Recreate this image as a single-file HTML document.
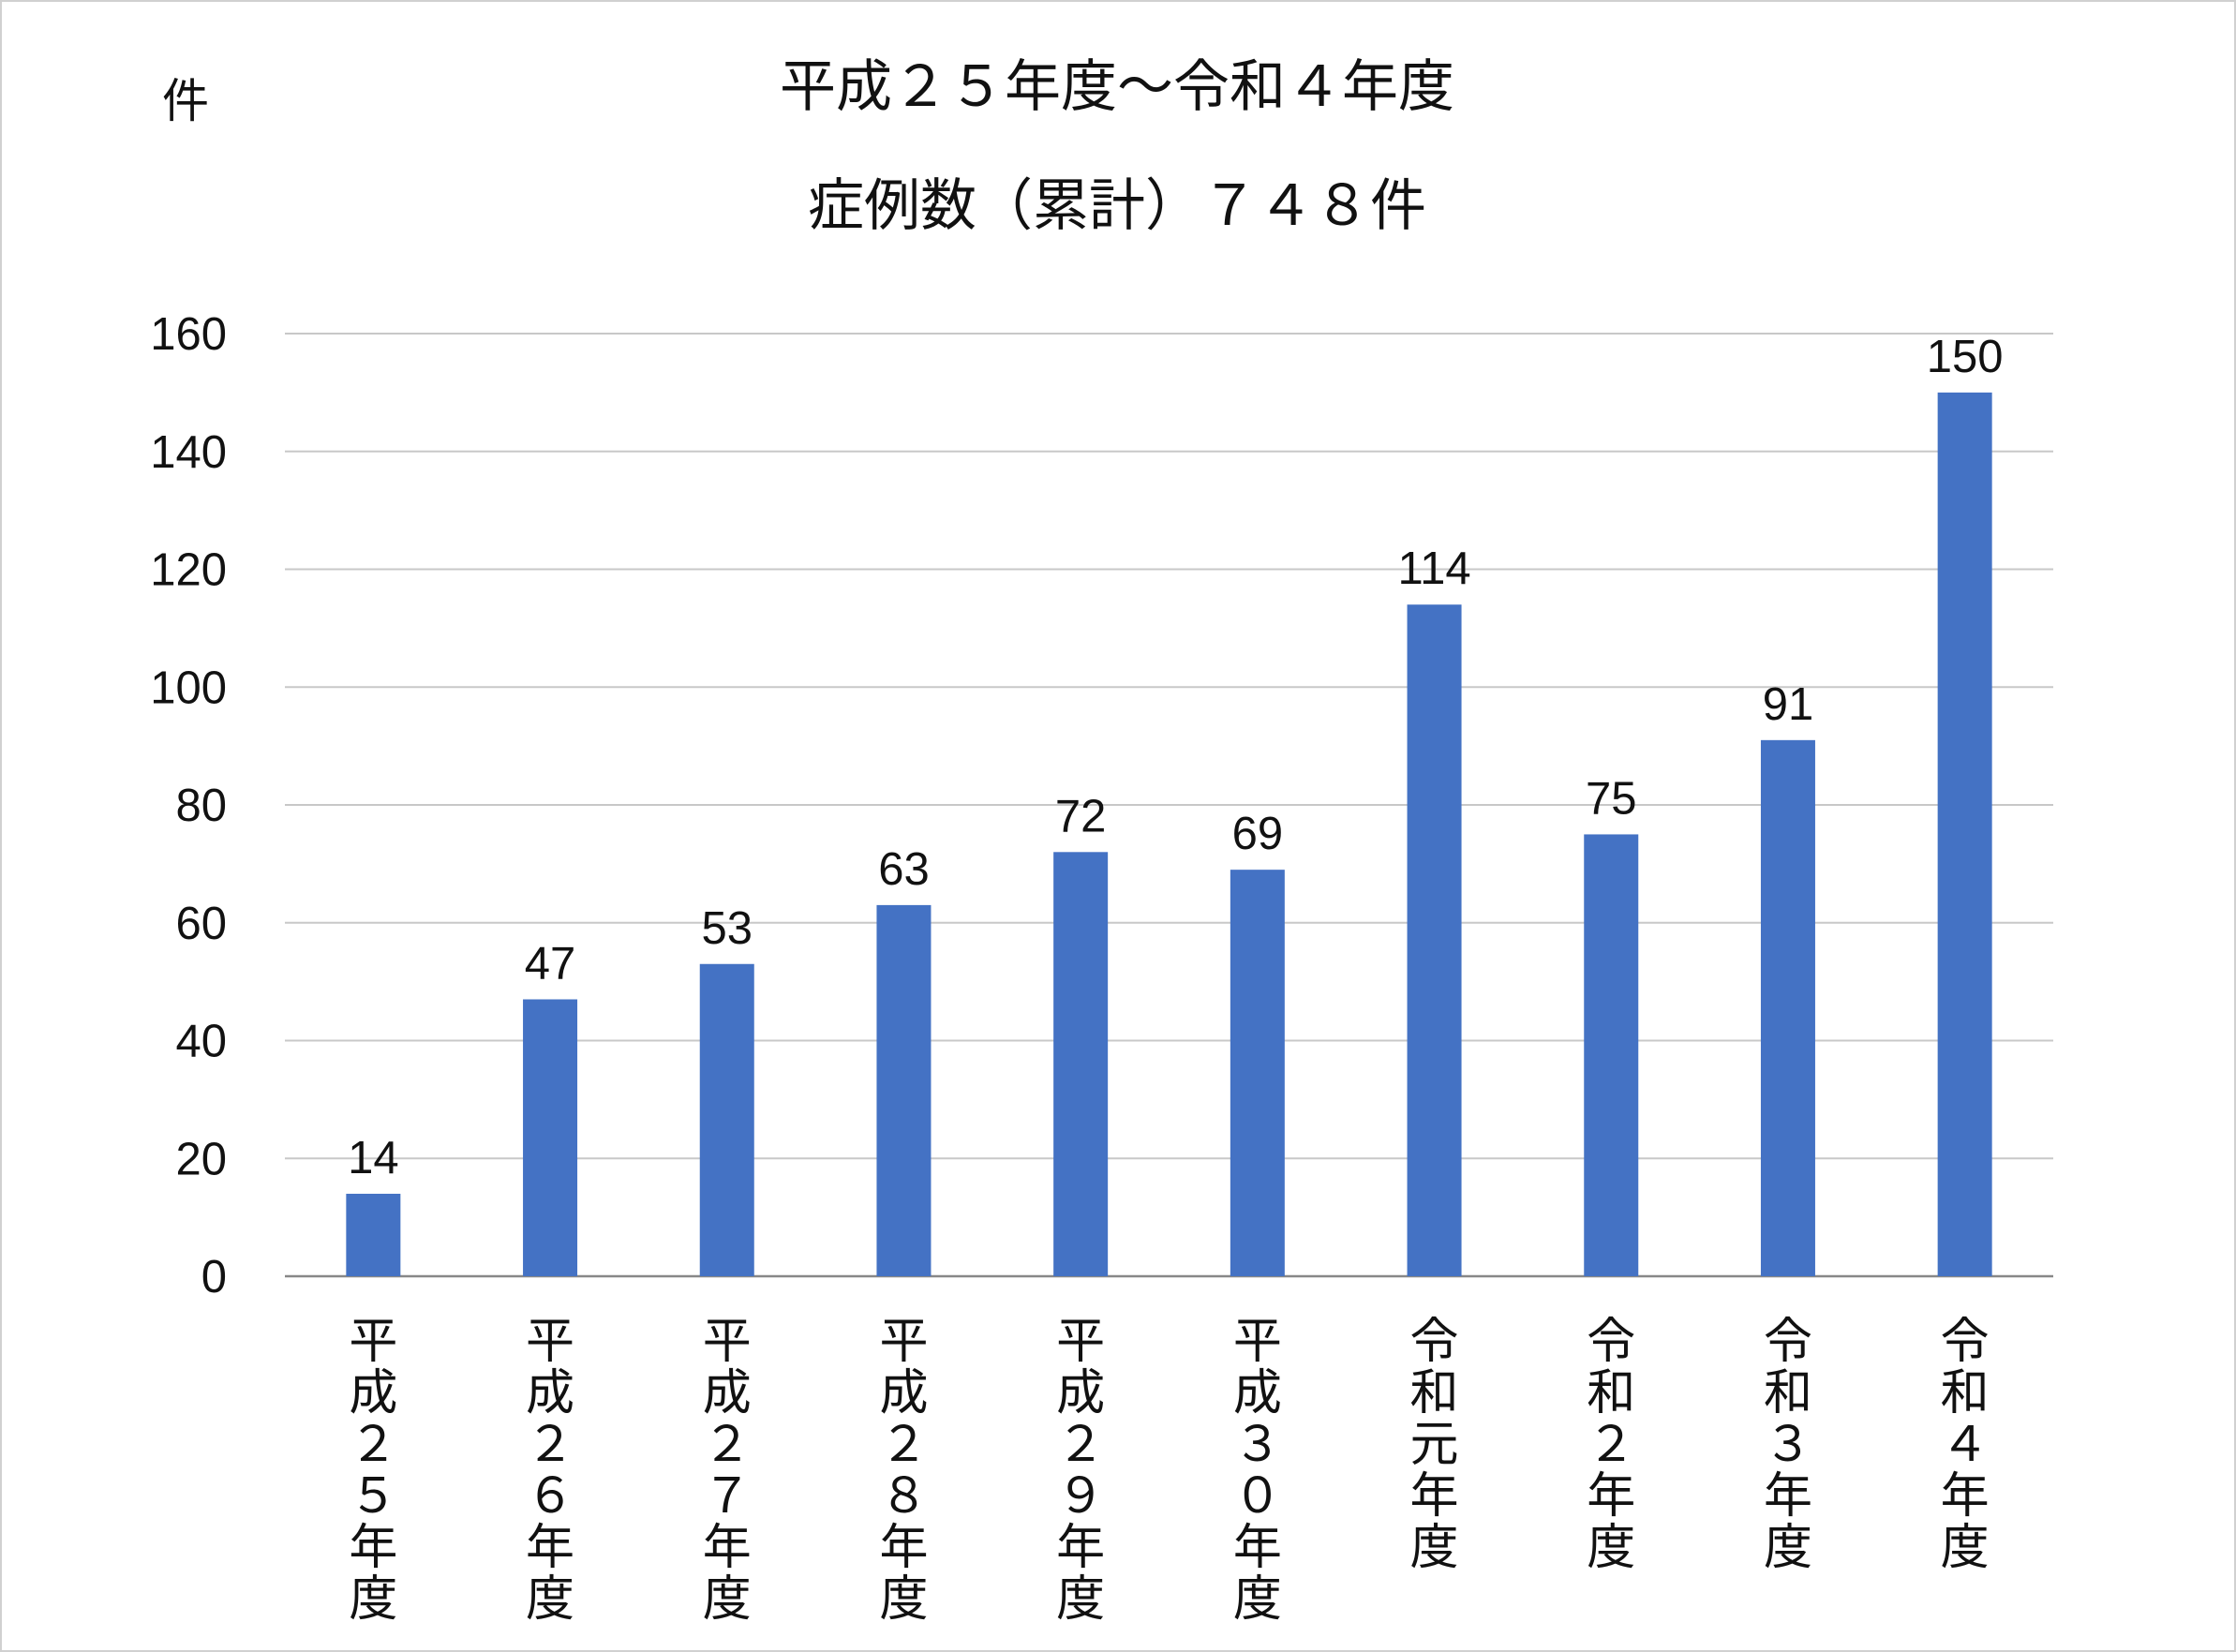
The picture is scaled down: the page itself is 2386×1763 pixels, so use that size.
<!DOCTYPE html>
<html><head><meta charset="utf-8"><style>
body{margin:0;background:#fff}
svg{display:block}
text{font-family:"Liberation Sans","Noto Sans CJK JP",sans-serif;fill:#111}
</style></head><body>
<svg id="chart" width="2386" height="1763" viewBox="0 0 2386 1763" xmlns="http://www.w3.org/2000/svg">
<rect x="1" y="1" width="2384" height="1761" fill="#fff" stroke="#d0d0d0" stroke-width="2"/>
<text x="198" y="125" font-size="50" text-anchor="middle">件</text>
<text x="1192" y="113" font-size="60" text-anchor="middle">平成２５年度～令和４年度</text>
<text x="1192" y="240" font-size="60" text-anchor="middle">症例数（累計）７４８件</text>
<g id="grid"></g><g id="bars"></g><g id="labels"></g>
</svg>
<script>
const categories=["平成２５年度","平成２６年度","平成２７年度","平成２８年度","平成２９年度","平成３０年度","令和元年度","令和２年度","令和３年度","令和４年度"];
const values=[14,47,53,63,72,69,114,75,91,150];
const ticks=[0,20,40,60,80,100,120,140,160];
const NS="http://www.w3.org/2000/svg";
const x0=304,x1=2191,y0=1362,yTop=356,yMax=160;
const yS=v=>y0-(y0-yTop)*v/yMax;
const bw=(x1-x0)/categories.length;
const xC=i=>x0+bw*(i+0.5);
function mk(tag,attrs,parent){const e=document.createElementNS(NS,tag);for(const k in attrs)e.setAttribute(k,attrs[k]);parent.appendChild(e);return e;}
const grid=document.getElementById('grid'),bars=document.getElementById('bars'),labels=document.getElementById('labels');
ticks.forEach(t=>{
  const l=mk('line',{x1:x0,x2:x1,y1:yS(t),y2:yS(t),stroke:t===0?'#888':'#c8c8c8','stroke-width':t===0?2.5:2},grid);
  
  
  const tx=mk('text',{x:242,y:yS(t)+17,'font-size':49,'text-anchor':'end'},grid);
  tx.textContent=t;
  
  
});
values.forEach((v,i)=>{
  const r=mk('rect',{x:xC(i)-29,y:yS(v),width:58,height:y0-yS(v),fill:'#4472c4'},bars);
  
  
  const t=mk('text',{x:xC(i),y:yS(v)-22,'font-size':49,'text-anchor':'middle'},labels);
  t.textContent=v;
  
  
  const g=mk('text',{x:xC(i),'font-size':52,'text-anchor':'middle'},labels);
  
  
  [...categories[i]].forEach((c,j)=>{
    const s=mk('tspan',{x:xC(i),y:1449+j*55},g);s.textContent=c;
  });
});
</script>
</body></html>
